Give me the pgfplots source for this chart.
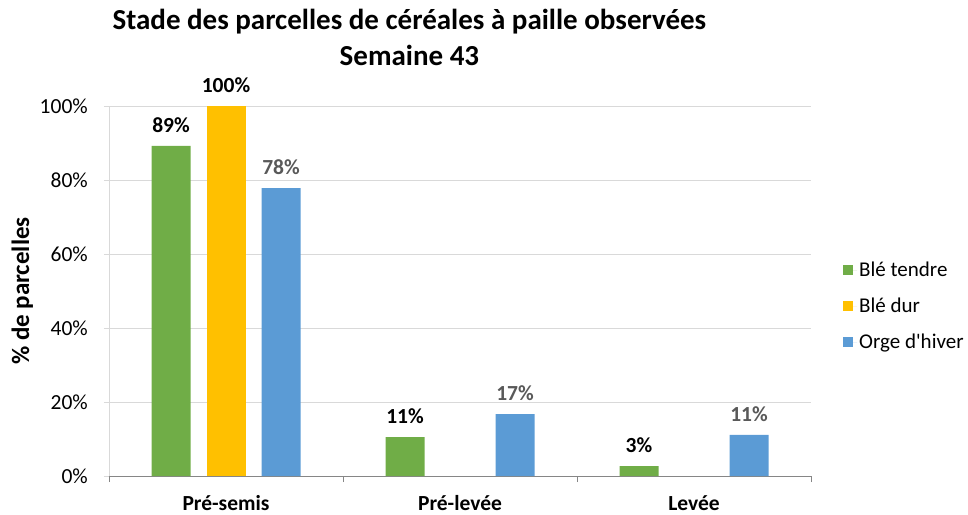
\documentclass[border=0pt]{standalone}
\usepackage{pgfplots}
\pgfplotsset{compat=1.18}
\usepackage{fontspec}
\setmainfont{Carlito}
\definecolor{cgreen}{HTML}{70AD47}
\definecolor{cyellow}{HTML}{FFC000}
\definecolor{cblue}{HTML}{5B9BD5}
\definecolor{cgrid}{HTML}{D9D9D9}
\definecolor{caxis}{HTML}{868686}
\definecolor{clab}{HTML}{595959}
\begin{document}
\begin{tikzpicture}
\begin{axis}[
  name=ax,
  at={(0,0)}, anchor=south west,
  scale only axis,
  width=702pt, height=370pt,
  ybar, bar width=39pt,
  xmin=-0.5, xmax=2.5, ymin=0, ymax=100,
  xtick={0,1,2},
  xticklabels={Pré-semis,Pré-levée,Levée},
  xticklabel style={font=\fontsize{21.5}{24}\selectfont\bfseries, inner sep=0pt, anchor=base, yshift=-29pt},
  minor xtick={-0.5,0.5,1.5,2.5},
  major x tick style={draw=none},
  minor x tick style={draw=caxis, line width=0.8pt},
  minor tick length=6pt,
  major tick length=5pt,
  tick align=outside,
  ytick={0,20,40,60,80,100},
  yticklabels={0\%,20\%,40\%,60\%,80\%,100\%},
  yticklabel style={font=\fontsize{21.5}{24}\selectfont, inner sep=0pt, anchor=east, xshift=-16pt},
  major y tick style={draw=cgrid, line width=0.8pt},
  ymajorgrids, grid style={draw=cgrid, line width=0.8pt},
  axis x line*=bottom, axis y line*=left,
  x axis line style={draw=caxis, line width=1pt, -},
  y axis line style={draw=cgrid, line width=0.8pt, -},
  ylabel={\% de parcelles},
  ylabel style={font=\fontsize{25}{28}\selectfont\bfseries, at={(axis description cs:-0.1234,0.5)}, anchor=center, rotate=0},
  title={Stade des parcelles de céréales à paille observées\\Semaine 43},
  title style={font=\fontsize{29}{36}\selectfont\bfseries, align=center, at={(axis description cs:0.428,1)}, anchor=base, yshift=34pt, inner sep=0pt},
  point meta=explicit symbolic,
  nodes near coords,
  nodes near coords style={font=\fontsize{21.5}{24}\selectfont\bfseries, anchor=base, yshift=13.5pt, inner sep=0pt},
  legend style={draw=none, fill=none, at={(axis description cs:1.0456,0.459)}, anchor=west,
    font=\fontsize{21}{24}\selectfont, row sep=16pt, inner sep=0pt,
    /tikz/every even column/.append style={column sep=0pt}},
  legend cell align=left,
  legend image code/.code={\path (0pt,0pt) -- (14pt,0pt); \fill[#1] (0pt,-5pt) rectangle (10pt,5pt);},
  clip=false,
]
\addplot[fill=cgreen, draw=none, bar shift=-55pt, nodes near coords style={text=black}]
  coordinates {(0,89.2) [89\%] (1,10.5) [11\%] (2,2.7) [3\%]};
\addplot[fill=cyellow, draw=none, bar shift=0pt, nodes near coords style={text=black}]
  coordinates {(0,100) [100\%]};
\addplot[fill=cblue, draw=none, bar shift=55pt, nodes near coords style={text=clab}]
  coordinates {(0,77.8) [78\%] (1,16.7) [17\%] (2,11.1) [11\%]};
\legend{Blé tendre,Blé dur,Orge d\textquotesingle hiver}
\end{axis}
\path (ax.south west) ++(-109pt,-38pt) rectangle ++(968pt,514pt);
\end{tikzpicture}
\end{document}
